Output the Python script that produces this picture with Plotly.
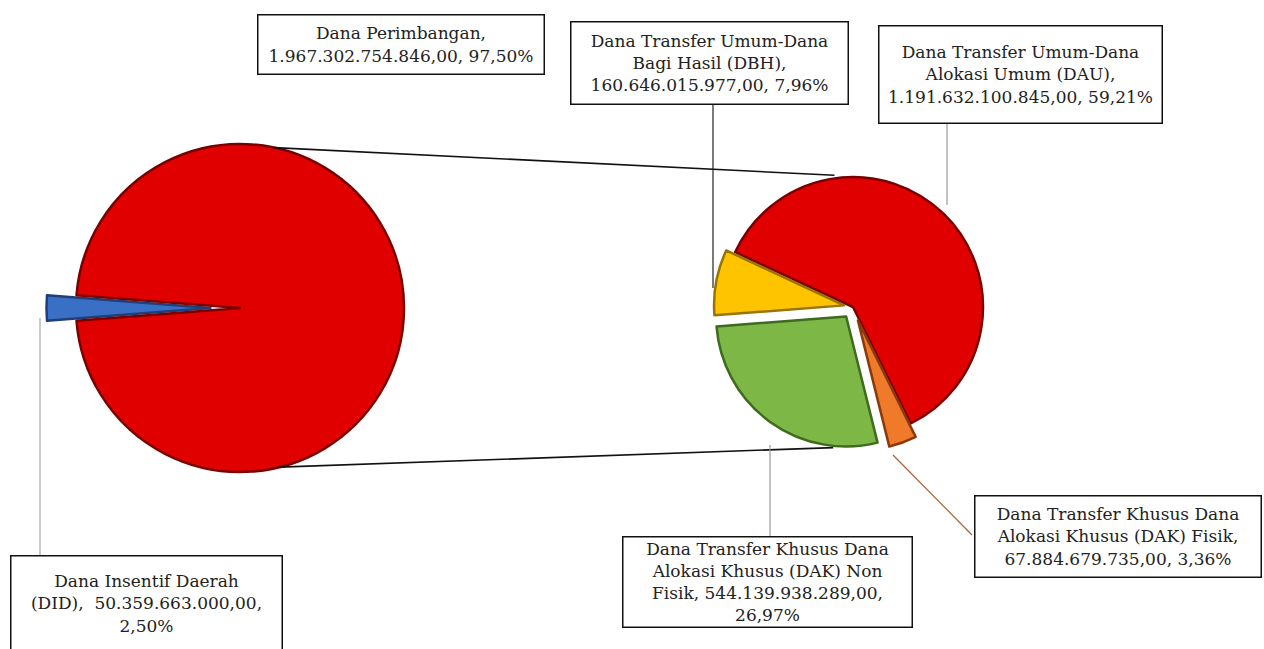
import math
import plotly.graph_objects as go

# Data (percent of total, as printed in the labels)
main_labels = ['Dana Insentif Daerah (DID)', 'Dana Perimbangan']
main_values = [2.50, 97.50]
main_colors = ['#3A6FC6', '#E10000']

sub_labels = ['DAU', 'DAK Fisik', 'DAK Non Fisik', 'DBH']
sub_values = [59.21, 3.36, 26.97, 7.96]
sub_colors = ['#E10000', '#EE7A2A', '#7DB846', '#FFC400']

label_texts = [
    'Dana Perimbangan,<br>1.967.302.754.846,00, 97,50%',
    'Dana Transfer Umum-Dana<br>Bagi Hasil (DBH),<br>160.646.015.977,00, 7,96%',
    'Dana Transfer Umum-Dana<br>Alokasi Umum (DAU),<br>1.191.632.100.845,00, 59,21%',
    'Dana Transfer Khusus Dana<br>Alokasi Khusus (DAK) Non<br>Fisik, 544.139.938.289,00,<br>26,97%',
    'Dana Transfer Khusus Dana<br>Alokasi Khusus (DAK) Fisik,<br>67.884.679.735,00, 3,36%',
    'Dana Insentif Daerah<br>(DID),  50.359.663.000,00,<br>2,50%',
]

W, H = 1264, 649


def px(x):
    return x / W


def py(y):
    return 1 - y / H


def pie_domain(cx, cy, r, pull):
    half = r * (1 + pull)
    return dict(x=[px(cx - half), px(cx + half)], y=[py(cy + half), py(cy - half)])


def on_circle(cx, cy, r, deg):
    a = math.radians(deg)
    return cx + r * math.sin(a), cy - r * math.cos(a)


# pie geometry (pixels)
c1, r1 = (240, 308), 164
c2, r2 = (853, 307), 130
pull1 = [0.18, 0]
pull2 = [0, 0.11, 0.09, 0.07]

fig = go.Figure()
fig.add_trace(go.Pie(
    labels=main_labels, values=main_values, sort=False, direction='clockwise',
    rotation=270 - main_values[0] / 100 * 360 / 2, pull=pull1,
    marker=dict(colors=main_colors, line=dict(color=['#1E3F7A', '#7A0000'], width=2.5)),
    textinfo='none', domain=pie_domain(*c1, r1, max(pull1)), showlegend=False,
))
fig.add_trace(go.Pie(
    labels=sub_labels, values=sub_values, sort=False, direction='clockwise',
    rotation=-65, pull=pull2,
    marker=dict(colors=sub_colors, line=dict(color=['#7A0000', '#8A3A0A', '#3E6B1E', '#9A7400'], width=2.5)),
    textinfo='none', domain=pie_domain(*c2, r2, max(pull2)), showlegend=False,
))

shapes = []
# connector lines between the two pies
for a1, a2 in [(12, -8), (166, 188)]:
    x0, y0 = on_circle(*c1, r1, a1)
    x1, y1 = on_circle(*c2, r2 + (12 if a2 > 90 else 3), a2)
    shapes.append(dict(type='line', xref='paper', yref='paper', x0=px(x0), y0=py(y0),
                       x1=px(x1), y1=py(y1), line=dict(color='#111111', width=1.6)))

# leader lines (pixel coords of start/end)
leaders = [
    ((713, 105), (713, 288), '#222222'),
    ((947, 123), (947, 205), '#999999'),
    ((770, 445), (770, 537), '#999999'),
    ((893, 455), (972, 535), '#B06030'),
    ((40, 318), (40, 555), '#AAAAAA'),
]
for (xa, ya), (xb, yb), col in leaders:
    shapes.append(dict(type='line', xref='paper', yref='paper', x0=px(xa), y0=py(ya),
                       x1=px(xb), y1=py(yb), line=dict(color=col, width=1.2)))

# label boxes: center x, center y, width, height
boxes = [
    (401, 45, 285, 58),
    (709, 63, 276, 81),
    (1020, 74, 282, 96),
    (767, 582, 288, 89),
    (1118, 536, 285, 80),
    (146, 603, 270, 94),
]
annotations = []
for text, (bx, by, bw, bh) in zip(label_texts, boxes):
    annotations.append(dict(
        text=text, x=px(bx), y=py(by), xref='paper', yref='paper', showarrow=False,
        xanchor='center', yanchor='middle', width=bw, height=bh, align='center',
        font=dict(family='DejaVu Serif', size=17, color='#222222'),
        bgcolor='white', bordercolor='#111111', borderwidth=1.5, borderpad=0,
    ))

fig.update_layout(
    width=W, height=H,
    margin=dict(l=0, r=0, t=0, b=0),
    paper_bgcolor='white', plot_bgcolor='white',
    shapes=shapes, annotations=annotations,
)

fig.write_html("out.html", config={'displayModeBar': False},
               post_script="document.body.style.margin = '0';")
